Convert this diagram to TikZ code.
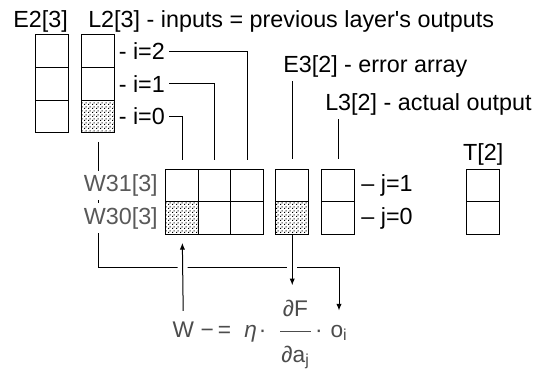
\documentclass[tikz,border=0pt]{standalone}
\usepackage{amsmath}
\usepackage{fontspec}
\setmainfont{Liberation Sans}
\usetikzlibrary{arrows.meta,backgrounds,patterns,positioning}
\pgfdeclarepatternformonly{bp stipple}{\pgfqpoint{0pt}{0pt}}{\pgfqpoint{3pt}{3pt}}{\pgfqpoint{3pt}{3pt}}{%
  \pgfpathrectangle{\pgfqpoint{0pt}{0pt}}{\pgfqpoint{1pt}{1pt}}%
  \pgfpathrectangle{\pgfqpoint{1.5pt}{1.5pt}}{\pgfqpoint{1pt}{1pt}}%
  \pgfusepath{fill}}
\tikzset{
  bp diagram/.style={font=\fontsize{17.5}{21}\selectfont, text=black},
  bp cell/.style={draw=black, fill=white, line width=0.75pt,
    minimum width=24.4pt, minimum height=24.4pt, inner sep=0pt, outer sep=0pt},
  bp dotted cell/.style={bp cell, pattern=bp stipple, pattern color=black},
  bp label/.style={inner sep=3pt},
  bp muted label/.style={bp label, text=black!65, fill=white},
  bp formula/.style={inner sep=1pt, text=black!70, font=\fontsize{17}{20}\selectfont},
  bp wire/.style={draw=black, line width=0.75pt},
  bp arrow/.style={bp wire, -{Latex[length=5pt,width=4pt]}},
  bp bridge/.style={preaction={draw=white, line width=7.5pt, arrows=-}}
}
\begin{document}
\begin{tikzpicture}[bp diagram,x=0.75pt,y=-0.75pt]
\useasboundingbox (0,0) rectangle (540,376);
% layer 2: error and output columns
\foreach \k/\y in {0/116.25,1/83.75,2/51.25}
  \node[bp cell] (e2-\k) at (52.25,\y) {};
\node[bp dotted cell] (l2-0) at (98.25,116.25) {};
\foreach \k/\y in {1/83.75,2/51.25}
  \node[bp cell] (l2-\k) at (98.25,\y) {};
\node[bp label,anchor=base west] (e2 lab) at (9,27) {E2[3]};
\node[bp label,anchor=base west] (l2 lab) at (84,27) {L2[3] - inputs = previous layer\textquotesingle s outputs};
\foreach \k in {0,1,2}
  \node[bp label,right=0pt of l2-\k] (i\k) {- i=\k};
% weights into layer 3
\node[bp dotted cell] (w0-0) at (182.25,218) {};
\foreach \i/\x in {1/214.75,2/247.25}
  \node[bp cell] (w0-\i) at (\x,218) {};
\foreach \i/\x in {0/182.25,1/214.75,2/247.25}
  \node[bp cell] (w1-\i) at (\x,185.5) {};
\node[bp muted label,left=3pt of w1-0] (w1 lab) {W31[3]};
\node[bp muted label,left=3pt of w0-0] (w0 lab) {W30[3]};
% layer 3 and target
\node[bp dotted cell] (e3-0) at (292.25,218) {};
\node[bp cell] (e3-1) at (292.25,185.5) {};
\node[bp cell] (l3-0) at (338.25,218) {};
\node[bp cell] (l3-1) at (338.25,185.5) {};
\node[bp cell] (t-0) at (483.25,218) {};
\node[bp cell] (t-1) at (483.25,185.5) {};
\node[bp label,anchor=base west] (e3 lab) at (279,72) {E3[2] - error array};
\node[bp label,anchor=base west] (l3 lab) at (321,110) {L3[2] - actual output};
\node[bp label,above=0pt of t-1] (t lab) {T[2]};
\foreach \j in {0,1}
  \node[bp label,right=2pt of l3-\j] (j\j) {– j=\j};
% update rule
\node[bp formula,anchor=base west] (upd w) at (171,337) {W};
\node[bp formula,anchor=base west] (upd eta) at (199,337) {−\hspace{3pt}=\hspace{10pt}\textit{η}\hspace{1.5pt}·};
\node[bp formula,anchor=base west] (upd frac) at (277,337)
  {$\dfrac{\text{∂F}\rule[-8.9pt]{0pt}{8.9pt}}{\mkern1mu\rule{0pt}{20.9pt}\text{∂a}_{\text{j}}\mkern1mu}$\hspace{2pt}·};
\node[bp formula,anchor=base west] (upd o) at (329,337) {o$_{\text{i}}$};
\begin{scope}[on background layer]
\foreach \k in {0,1,2}
  \draw[bp wire,shorten >=6.75pt] (i\k.east) -| (w1-\k.north);
\draw[bp wire,shorten >=7.5pt] (e3 lab.south -| e3-1.north) -- (e3-1.north);
\draw[bp wire,shorten >=7.5pt] (l3 lab.south -| l3-1.north) -- (l3-1.north);
\path (0,267) coordinate (bus level);
\draw[bp arrow,shorten <=7pt,shorten >=9.5pt] (l2-0.south) |- (upd o.north |- bus level) -- (upd o.north);
\draw[bp arrow,bp bridge,shorten <=6.75pt,shorten >=6.5pt] (upd w.north) -- (w0-0.south);
\draw[bp arrow,bp bridge,shorten >=9.75pt] (e3-0.south) -- (e3-0.south |- upd frac.north);
\end{scope}
\end{tikzpicture}
\end{document}
